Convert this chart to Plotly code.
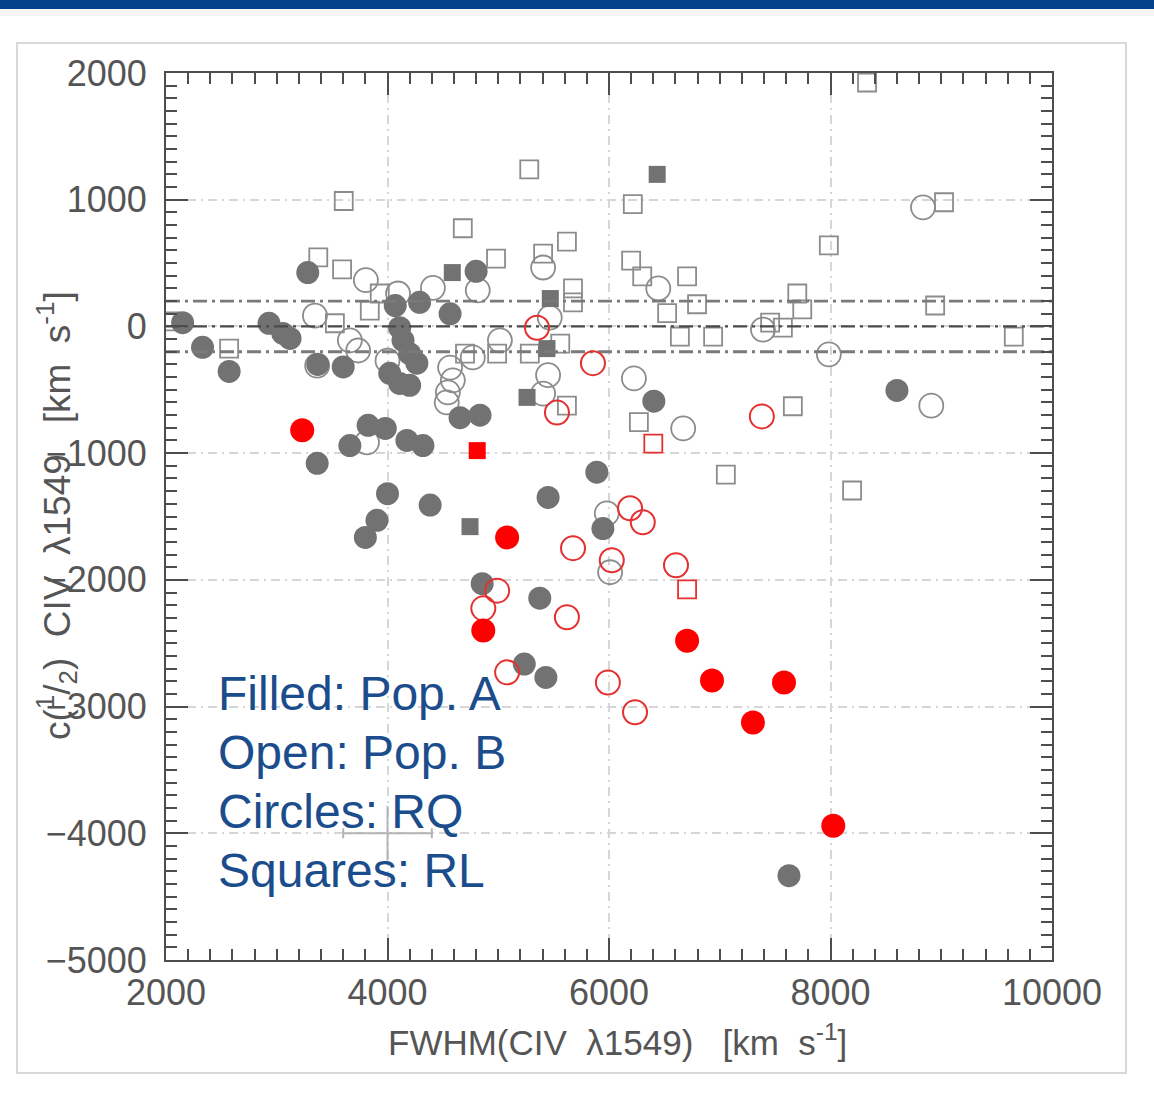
import plotly.graph_objects as go

# ---------------- data ----------------
# Pop. A, radio-quiet (grey filled circles)
popA_rq_x = [2150, 2330, 2570, 2930, 3055, 3120, 3280, 3370, 3600, 4070, 4290, 4110, 4140,
             4200, 4265, 4020, 4110, 4200, 4565, 4800, 3825, 3980, 3660, 4175, 4320, 3365,
             4000, 4385, 3905, 3800, 4655, 4835, 5450, 5890, 5945, 6405, 8600, 4855, 5375,
             5235, 5430, 7625]
popA_rq_y = [30, -165, -355, 25, -55, -95, 425, -300, -320, 165, 190, -10, -110,
             -215, -290, -370, -450, -465, 100, 435, -780, -805, -940, -900, -940, -1080,
             -1320, -1410, -1530, -1665, -720, -700, -1350, -1150, -1595, -590, -505, -2030, -2145,
             -2665, -2770, -4335]
# Pop. A, radio-loud (grey filled squares)
popA_rl_x = [6435, 4585, 5470, 5440, 5260, 4745]
popA_rl_y = [1200, 425, 220, -175, -560, -1580]
# Pop. B, radio-quiet (grey open circles)
popB_rq_x = [3805, 4095, 4410, 4815, 5405, 3345, 3660, 3735, 3365, 4565, 4590, 4545, 4535,
             5015, 5450, 5465, 5405, 6225, 6670, 7985, 7390, 8835, 8910, 5980, 6010, 3815,
             6445, 4000, 4770]
popB_rq_y = [365, 260, 305, 285, 465, 85, -110, -190, -310, -325, -425, -520, -600,
             -110, -385, 70, -530, -410, -805, -220, -25, 940, -625, -1475, -1940, -915,
             300, -270, -245]
# Pop. B, radio-loud (grey open squares)
popB_rl_x = [3605, 5280, 4680, 3375, 3590, 4980, 5405, 5620, 6200, 6300, 6705, 5675, 5675,
             3930, 3840, 3525, 2570, 4700, 4990, 5285, 5560, 6795, 6525, 6640, 6940, 7455,
             7570, 7700, 7745, 7985, 9025, 8945, 9655, 8330, 6215, 6270, 5620, 7660, 7055,
             8195, 2040]
popB_rl_y = [990, 1240, 775, 545, 450, 535, 575, 670, 520, 395, 395, 300, 190,
             260, 125, 25, -175, -215, -215, -215, -135, 175, 105, -80, -80, 30,
             -10, 260, 135, 640, 980, 165, -80, 1925, 965, -755, -625, -630, -1170,
             -1295, 40]
# highlighted subsample (red)
red_A_rq_x = [3230, 5080, 4865, 6705, 6930, 7580, 7300, 8025]
red_A_rq_y = [-820, -1665, -2400, -2480, -2795, -2810, -3125, -3940]
red_A_rl_x = [4810]
red_A_rl_y = [-980]
red_B_rq_x = [5350, 5855, 5530, 7380, 6190, 6305, 5675, 6025, 6605, 4990, 4865, 5620,
              5080, 5990, 6235]
red_B_rq_y = [-10, -290, -680, -710, -1435, -1545, -1750, -1845, -1885, -2085, -2225, -2295,
              -2730, -2810, -3045]
red_B_rl_x = [6400, 6705]
red_B_rl_y = [-925, -2075]

ref_lines = [200, 0, -200]
err_x, err_y, err_dx, err_dy = [4000], [-4000], [400], [215]

legend_lines = ["Filled: Pop. A", "Open: Pop. B", "Circles: RQ", "Squares: RL"]

x_range = [2000, 10000]
y_range = [-5000, 2000]

# ---------------- figure ----------------
GREY = "#727272"
OPEN_GREY = "#8c8c8c"
RED = "#ff0000"
OPEN_RED = "#e63030"

fig = go.Figure()

# representative error bar
fig.add_trace(go.Scatter(
    x=err_x, y=err_y, mode="markers", marker=dict(size=1, color="rgba(0,0,0,0)"),
    error_x=dict(type="data", array=err_dx, color="#b4b4b4", thickness=2, width=5),
    error_y=dict(type="data", array=err_dy, color="#b4b4b4", thickness=2, width=0),
    hoverinfo="skip", showlegend=False))

fig.add_trace(go.Scatter(x=popB_rl_x, y=popB_rl_y, mode="markers", showlegend=False,
    marker=dict(symbol="square-open", size=18, color=OPEN_GREY, line=dict(width=1.8))))
fig.add_trace(go.Scatter(x=popB_rq_x, y=popB_rq_y, mode="markers", showlegend=False,
    marker=dict(symbol="circle-open", size=24, color=OPEN_GREY, line=dict(width=1.8))))
fig.add_trace(go.Scatter(x=popA_rq_x, y=popA_rq_y, mode="markers", showlegend=False,
    marker=dict(symbol="circle", size=23, color=GREY, line=dict(width=0))))
fig.add_trace(go.Scatter(x=popA_rl_x, y=popA_rl_y, mode="markers", showlegend=False,
    marker=dict(symbol="square", size=17, color=GREY, line=dict(width=0))))

# reference lines at 0 and +/-200 km/s
for v in ref_lines:
    fig.add_trace(go.Scatter(
        x=x_range, y=[v, v], mode="lines", showlegend=False, hoverinfo="skip",
        line=dict(color="#4a4a4a" if v == 0 else "#7a7a7a", width=2.2 if v == 0 else 2.8,
                  dash="14px,5px,3px,5px")))

fig.add_trace(go.Scatter(x=red_B_rl_x, y=red_B_rl_y, mode="markers", showlegend=False,
    marker=dict(symbol="square-open", size=18, color=OPEN_RED, line=dict(width=1.8))))
fig.add_trace(go.Scatter(x=red_B_rq_x, y=red_B_rq_y, mode="markers", showlegend=False,
    marker=dict(symbol="circle-open", size=24, color=OPEN_RED, line=dict(width=2))))
fig.add_trace(go.Scatter(x=red_A_rq_x, y=red_A_rq_y, mode="markers", showlegend=False,
    marker=dict(symbol="circle", size=24, color=RED, line=dict(width=0))))
fig.add_trace(go.Scatter(x=red_A_rl_x, y=red_A_rl_y, mode="markers", showlegend=False,
    marker=dict(symbol="square", size=17, color=RED, line=dict(width=0))))

axis_common = dict(
    showline=True, linecolor="#4d4d4d", linewidth=2, mirror="ticks",
    ticks="inside", ticklen=22, tickwidth=2, tickcolor="#4d4d4d",
    showgrid=True, gridcolor="#d6d6d6", gridwidth=1.5, griddash="9px,5px,2px,5px",
    zeroline=False, tickformat="d",
    tickfont=dict(family="Liberation Sans, Arial, sans-serif", size=36, color="#555555"),
)

fig.update_xaxes(range=x_range, tick0=2000, dtick=2000, ticklabelstandoff=0,
                 minor=dict(ticks="inside", ticklen=11, tickwidth=2, tickcolor="#4d4d4d",
                            dtick=200, showgrid=False),
                 **axis_common)
fig.update_yaxes(range=y_range, tick0=-5000, dtick=1000, ticklabelstandoff=10,
                 minor=dict(ticks="inside", ticklen=11, tickwidth=2, tickcolor="#4d4d4d",
                            dtick=100, showgrid=False),
                 **axis_common)

W, H = 1154, 1103
L, R, T, B = 166, 102, 73, 143
pw, ph = W - L - R, H - T - B

def px(xp):
    return (xp - L) / pw

def py(yp):
    return (H - B - yp) / ph

annotations = []
# axis titles
annotations.append(dict(
    x=px(617), y=py(1040), xref="paper", yref="paper", showarrow=False,
    xanchor="center", yanchor="middle",
    text="FWHM(CIV\u00a0\u00a0\u03bb1549)\u00a0\u00a0\u00a0[km\u00a0\u00a0s<sup>-1</sup>]",
    font=dict(family="Liberation Sans, Arial, sans-serif", size=35, color="#555555")))
annotations.append(dict(
    x=px(56), y=py(516), xref="paper", yref="paper", showarrow=False,
    xanchor="center", yanchor="middle", textangle=-90,
    text="c(<sup>1</sup>/<sub>2</sub>)\u00a0\u00a0CIV\u00a0\u00a0\u03bb1549\u00a0\u00a0\u00a0[km\u00a0\u00a0s<sup>-1</sup>]",
    font=dict(family="Liberation Sans, Arial, sans-serif", size=37, color="#555555")))

# explanatory text block
for i, t in enumerate(legend_lines):
    annotations.append(dict(
        x=px(216), y=py(693 + 59 * i), xref="paper", yref="paper", showarrow=False,
        xanchor="left", yanchor="middle", text=t,
        font=dict(family="Liberation Sans, Arial, sans-serif", size=48, color="#1b4d8c")))

shapes = [
    # top banner bar
    dict(type="rect", xref="paper", yref="paper", x0=px(0), x1=px(W), y0=py(9), y1=py(0),
         fillcolor="#04438a", line=dict(width=0), layer="below"),
    dict(type="rect", xref="paper", yref="paper", x0=px(0), x1=px(W), y0=py(16), y1=py(9),
         fillcolor="#f5f5f5", line=dict(width=0), layer="below"),
    # outer frame
    dict(type="rect", xref="paper", yref="paper", x0=px(17), x1=px(1126), y0=py(1073), y1=py(43),
         fillcolor="rgba(0,0,0,0)", line=dict(color="#d8d8d8", width=2), layer="below"),
]

fig.update_layout(
    width=W, height=H,
    margin=dict(l=L, r=R, t=T, b=B, pad=0),
    paper_bgcolor="white", plot_bgcolor="white",
    showlegend=False, hovermode=False,
    annotations=annotations, shapes=shapes,
)

fig.write_html("out.html")
